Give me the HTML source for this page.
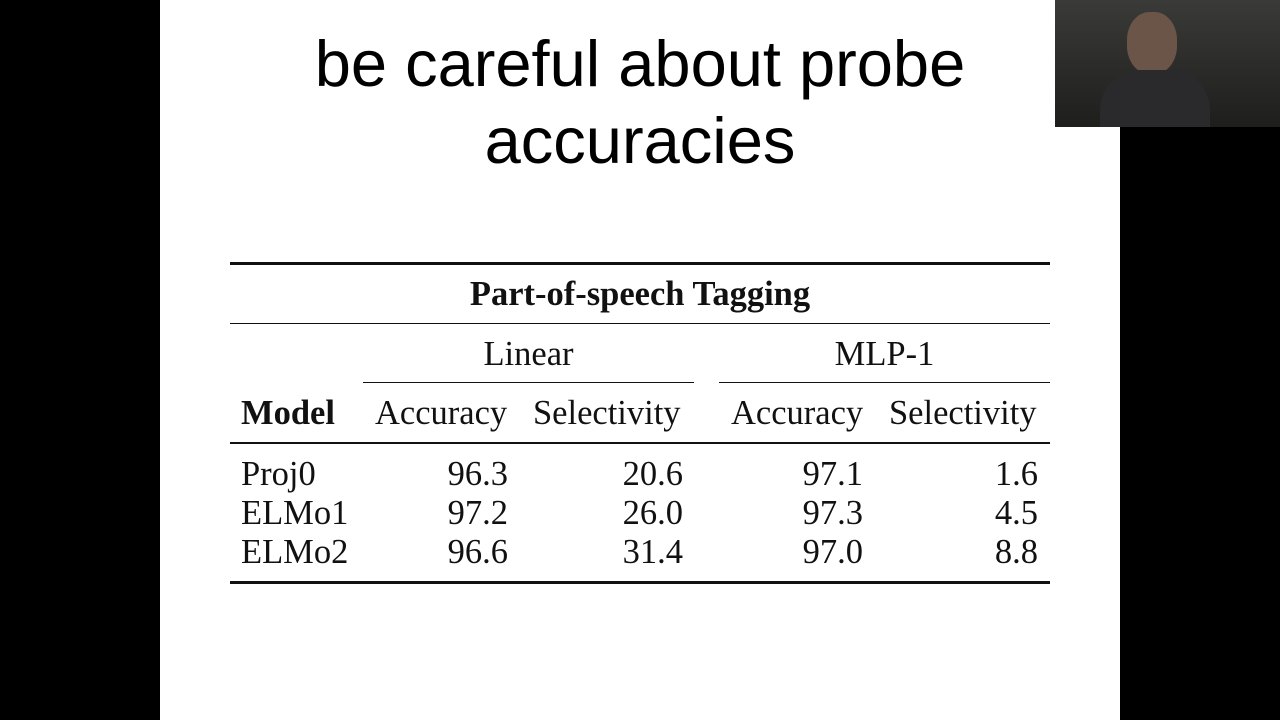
<!DOCTYPE html>
<html><head><meta charset="utf-8"><style>
body{margin:0;width:1280px;height:720px;background:#000;position:relative;overflow:hidden}
.slide{position:absolute;left:160px;top:0;width:960px;height:720px;background:#fff}
.t{position:absolute;font-family:"Liberation Serif",serif;font-size:34.5px;color:#111;white-space:nowrap;line-height:1}
.r{text-align:right}
.rule{position:absolute;background:#111}
.title{position:absolute;left:160px;width:960px;text-align:center;font-family:"Liberation Sans",sans-serif;font-size:65px;color:#000;line-height:77px;top:25px}
</style></head><body>
<div class="slide"></div>
<div class="title">be careful about probe<br>accuracies</div>
<div style="position:absolute;left:1055px;top:0;width:225px;height:127px;background:linear-gradient(#3a3a38,#1e1e1c)">
<div style="position:absolute;left:72px;top:12px;width:50px;height:62px;border-radius:45%;background:#6b5548"></div>
<div style="position:absolute;left:45px;top:70px;width:110px;height:57px;border-radius:40px 40px 0 0;background:#2a2a2c"></div>
</div>
<div class="rule" style="left:230px;top:262px;width:820px;height:3px"></div>
<div class="t" style="left:230px;width:820px;text-align:center;top:277px;font-weight:bold">Part-of-speech Tagging</div>
<div class="rule" style="left:230px;top:323px;width:820px;height:1px"></div>
<div class="t" style="left:363px;width:331px;text-align:center;top:337px">Linear</div>
<div class="t" style="left:719px;width:331px;text-align:center;top:337px">MLP-1</div>
<div class="rule" style="left:363px;top:382px;width:331px;height:1px"></div>
<div class="rule" style="left:719px;top:382px;width:331px;height:1px"></div>
<div class="t" style="left:241px;top:396px;font-weight:bold">Model</div>
<div class="t" style="left:375px;top:396px">Accuracy</div>
<div class="t" style="left:533px;top:396px">Selectivity</div>
<div class="t" style="left:731px;top:396px">Accuracy</div>
<div class="t" style="left:889px;top:396px">Selectivity</div>
<div class="rule" style="left:230px;top:442px;width:820px;height:2px"></div>
<div id="rows"></div>
<div class="rule" style="left:230px;top:581px;width:820px;height:3px"></div>
<script>
const models=["Proj0","ELMo1","ELMo2"];
const linAcc=["96.3","97.2","96.6"];
const linSel=["20.6","26.0","31.4"];
const mlpAcc=["97.1","97.3","97.0"];
const mlpSel=["1.6","4.5","8.8"];
const rows=document.getElementById('rows');
function cell(txt,x,y,right,name){const d=document.createElement('div');d.className='t'+(right?' r':'');


d.textContent=txt;d.style.top=y+'px';if(right){d.style.left=(x-150)+'px';d.style.width='150px';}else d.style.left=x+'px';rows.appendChild(d);}
models.forEach((m,i)=>{const y=457+i*39;
cell(m,241,y,false,'model-name');
cell(linAcc[i],508,y,true,'linear-accuracy');
cell(linSel[i],683,y,true,'linear-selectivity');
cell(mlpAcc[i],863,y,true,'mlp-accuracy');
cell(mlpSel[i],1038,y,true,'mlp-selectivity');});
</script>
</body></html>
